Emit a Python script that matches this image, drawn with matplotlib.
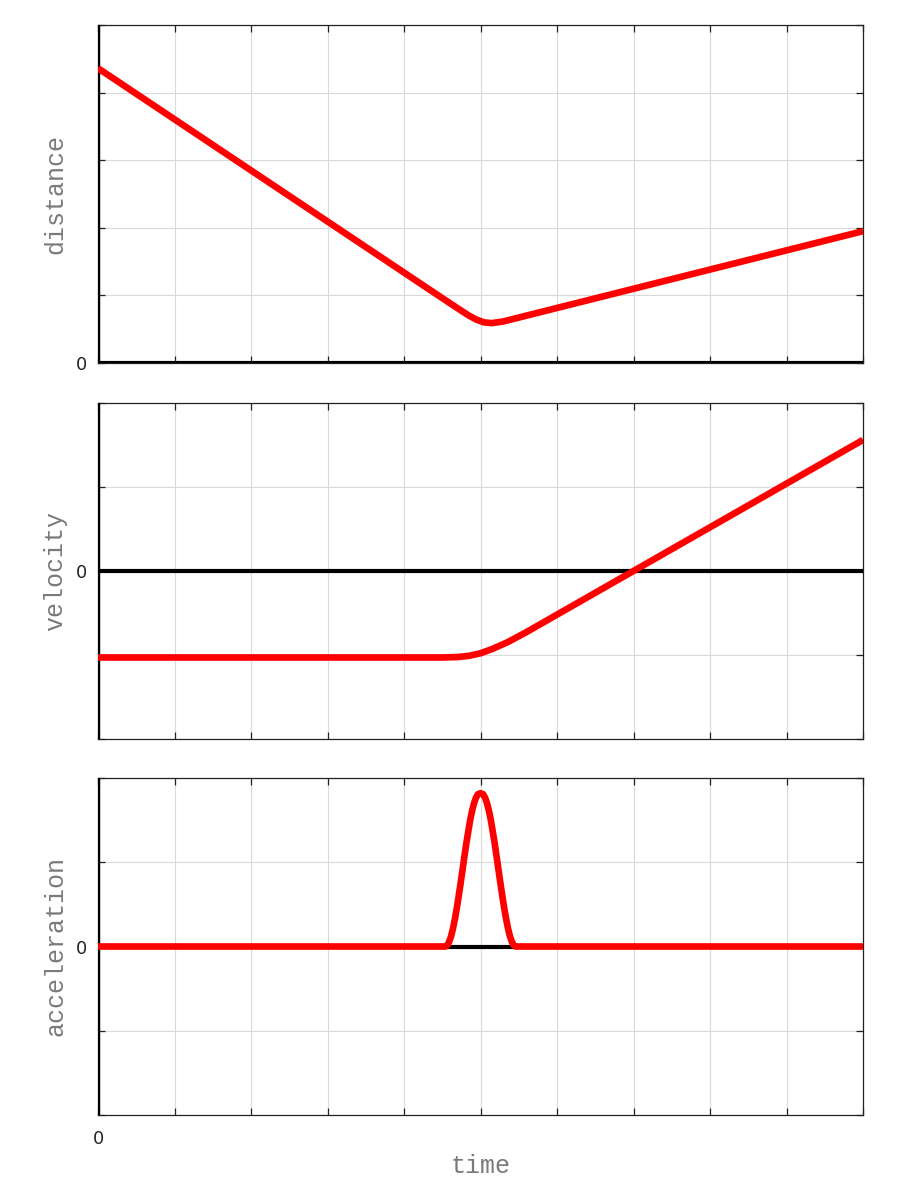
import matplotlib
matplotlib.use("Agg")
import matplotlib.pyplot as plt
import numpy as np

# ---- data ----
t_dist = [0, 4.5, 4.7, 4.85, 4.95, 5.05, 5.15, 5.3, 5.5, 10]
distance = [4.36, 0.96, 0.81, 0.70, 0.64, 0.60, 0.59, 0.615, 0.672, 1.95]

t_vel = [0, 4.5, 4.7, 4.85, 5.0, 5.15, 5.35, 5.6, 10]
velocity = [-1.03, -1.03, -1.025, -1.01, -0.98, -0.93, -0.85, -0.728, 1.56]

t_acc = [0, 4.54, 4.565, 4.59, 4.615, 4.64, 4.665, 4.69, 4.715, 4.74, 4.765,
         4.79, 4.815, 4.84, 4.865, 4.89, 4.915, 4.94, 4.965, 5.0,
         5.035, 5.06, 5.085, 5.11, 5.135, 5.16, 5.185, 5.21, 5.235, 5.26,
         5.285, 5.31, 5.335, 5.36, 5.385, 5.41, 5.435, 5.46, 10]
acceleration = [0, 0, 0.014, 0.055, 0.12, 0.213, 0.325, 0.455, 0.60, 0.752, 0.91,
                1.07, 1.225, 1.365, 1.50, 1.61, 1.70, 1.765, 1.806, 1.82,
                1.806, 1.765, 1.70, 1.61, 1.50, 1.365, 1.225, 1.07, 0.91, 0.752,
                0.60, 0.455, 0.325, 0.213, 0.12, 0.055, 0.014, 0, 0]

x_ticks = list(range(0, 11))
panels = [
    ("distance", t_dist, distance, (0, 5), [0, 1, 2, 3, 4, 5]),
    ("velocity", t_vel, velocity, (-2, 2), [-2, -1, 0, 1, 2]),
    ("acceleration", t_acc, acceleration, (-2, 2), [-2, -1, 0, 1, 2]),
]

fig = plt.figure(figsize=(9, 12), dpi=100)
positions = [
    (0.1089, 0.6975, 0.85, 0.2817),
    (0.1089, 0.3842, 0.85, 0.2800),
    (0.1089, 0.0708, 0.85, 0.2809),
]

label_font = dict(family="Liberation Mono", size=18, color="#7a7a7a")
tick_font = dict(family="DejaVu Sans", size=13, color="#262626")

for i, ((name, tx, vals, ylim, yt), pos) in enumerate(zip(panels, positions)):
    ax = fig.add_axes(pos)
    ax.set_xlim(0, 10)
    ax.set_ylim(*ylim)
    ax.set_xticks(x_ticks)
    ax.set_yticks(yt)
    ax.grid(True, color="#d9d9d9", linewidth=0.8)
    ax.set_axisbelow(True)
    for s in ax.spines.values():
        s.set_linewidth(0.9)
        s.set_color("#222222")
    ax.tick_params(direction="in", length=5, width=0.9, top=True, right=True,
                   colors="#222222", labelcolor="#262626")
    ax.set_yticklabels(["0" if v == 0 else "" for v in yt], **tick_font)
    if i == 2:
        ax.set_xticklabels(["0" if v == 0 else "" for v in x_ticks], **tick_font)
        ax.set_xlabel("time", labelpad=4, **label_font)
    else:
        ax.set_xticklabels([])
    ax.tick_params(axis="y", pad=8)
    ax.tick_params(axis="x", pad=11)
    # thick zero axes
    ax.axhline(0, color="black", linewidth=3, zorder=3)
    ax.axvline(0, color="black", linewidth=3.2, zorder=3)
    ax.plot(tx, vals, color="#ff0000", linewidth=4.8, zorder=4,
            solid_capstyle="butt", solid_joinstyle="round")
    ax.set_ylabel(name, labelpad=6, **label_font)

fig.savefig("out.png", dpi=100)
